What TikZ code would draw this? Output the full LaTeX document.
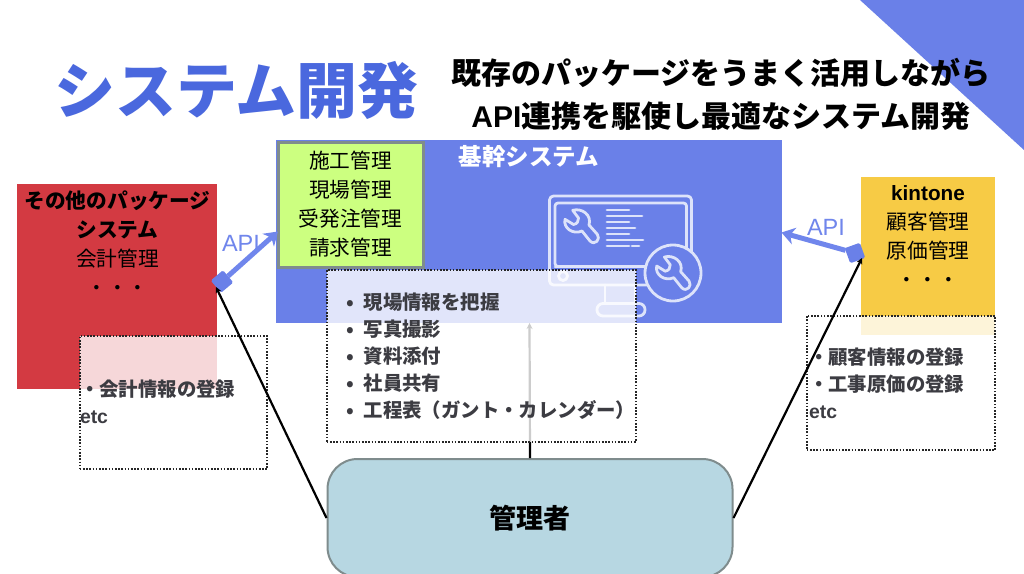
\documentclass[tikz,border=0pt]{standalone}
\usepackage{fontspec}
\setmainfont{Liberation Sans}
\newfontfamily\jp{Noto Sans CJK JP}
\usetikzlibrary{arrows.meta}
\definecolor{mainblue}{HTML}{6A80E8}
\definecolor{titleblue}{HTML}{4A68DE}
\definecolor{apiblue}{HTML}{7086EC}
\definecolor{redbox}{HTML}{D33A42}
\definecolor{yelbox}{HTML}{F7CB45}
\definecolor{limebox}{HTML}{CCFF80}
\definecolor{edgegray}{HTML}{7F8C8D}
\definecolor{admfill}{HTML}{B7D7E2}
\definecolor{icon}{HTML}{DDE3FA}
\definecolor{notetext}{HTML}{3C3C42}
\tikzset{
  x=1pt,y=-1pt,
  note/.style={draw=black!85,line width=1.8pt,dash pattern=on 1.6pt off 1.6pt,fill=white,fill opacity=.8,inner sep=0pt,outer sep=0pt},
  label/.style={inner sep=0pt,outer sep=0pt,align=center,font=\jp\fontsize{20.7}{29}\selectfont},
  notetxt/.style={inner sep=0pt,outer sep=0pt,align=left,anchor=north west,text=notetext,font=\jp\bfseries\fontsize{19.4}{27}\selectfont},
  apilink/.style={draw=apiblue,line width=5pt,-{Stealth[length=13pt,width=17pt,inset=4pt]}},
  plug/.style={fill=mainblue,rounded corners=1.5pt,minimum size=16pt,inner sep=0pt,outer sep=0pt},
  blackline/.style={draw=black,line width=2.2pt,-{Stealth[length=6pt,width=6pt]}},
  apitext/.style={inner sep=0pt,text=apiblue,font=\fontsize{23.5}{25}\selectfont},
  iconline/.style={draw=icon,line width=2.8pt,line cap=round,line join=round},
}
\newcommand{\wrenchshape}{%
  \draw[iconline] (32.7,25.3) .. controls (42,22.7) and (52,30) .. (49,40)
    -- (57.3,49.3) .. controls (61,54) and (55,61) .. (50,56) -- (42,46)
    .. controls (33,50) and (23,43) .. (25,34.3)
    -- (33.5,39.5) .. controls (37,39) and (39,36) .. (38.5,33) -- cycle;}
\begin{document}
\begin{tikzpicture}
\useasboundingbox (0,0) rectangle (1024,573);
\fill[white] (0,0) rectangle (1024,573);
\fill[mainblue] (860,0) -- (1024,0) -- (1024,150) -- cycle;

\node[label,anchor=center,text=titleblue,font=\jp\bfseries\fontsize{61}{61}\selectfont] (title) at (236.5,90) {システム開発};
\node[label,anchor=center,font=\jp\bfseries\fontsize{30}{43}\selectfont] (sub) at (721,94)
  {既存のパッケージをうまく活用しながら\\{\fontspec{Liberation Sans}\bfseries API}連携を駆使し最適なシステム開発};

% core system panel
\node[fill=mainblue,minimum width=506pt,minimum height=183pt,inner sep=0pt,outer sep=0pt] (core) at (529,231.5) {};
\node[label,text=white,font=\jp\bfseries\fontsize{23.5}{25}\selectfont] (coretitle) at (529,157) {基幹システム};

% monitor icon
\draw[iconline,rounded corners=4pt] (549.5,196) rectangle (691.5,285);
\draw[iconline,rounded corners=3pt] (555,203) rectangle (686.5,266.5);
\draw[iconline] (555,267) -- (686,267);
\draw[iconline] (563,276) circle (4.5);
\draw[iconline] (605,285) -- (605,303) (635,285) -- (635,303);
\draw[iconline,rounded corners=6pt] (597,303.5) rectangle (645,316);
\foreach \ya/\xb in {210/629,216/642,222/629,228/635,234/629,240/643,246/629}
  \draw[iconline] (607,\ya) -- (\xb,\ya);
\draw[iconline] (632,246) -- (639,246);
\begin{scope}[shift={(540,185)}]\wrenchshape\end{scope}
\draw[iconline,fill=mainblue] (673,273) circle (28);
\begin{scope}[shift={(631.7,231.7)}]\wrenchshape\end{scope}

% lime box
\node[fill=limebox,draw=edgegray,line width=3pt,minimum width=145pt,minimum height=125pt,inner sep=0pt] (lime) at (350.5,204.5) {};
\node[label] (limetext) at (350.5,204) {施工管理\\現場管理\\受発注管理\\請求管理};

% red box
\node[fill=redbox,minimum width=200pt,minimum height=205pt,inner sep=0pt,outer sep=0pt] (red) at (117,286) {};
\node[label] (redtext) at (117.5,243.5) {\bfseries その他のパッケージ\\\bfseries システム\\会計管理\\・・・};

% yellow box
\node[fill=yelbox,minimum width=134pt,minimum height=158pt,inner sep=0pt,outer sep=0pt] (yel) at (928,256) {};
\node[label] (yeltext) at (928,236.5) {{\fontspec{Liberation Sans}\bfseries kintone}\\顧客管理\\原価管理\\・・・};

% admin
\node[fill=admfill,draw=edgegray,line width=2pt,rounded corners=30pt,minimum width=405pt,minimum height=118pt,inner sep=0pt] (admin) at (530,518) {};
\node[label,font=\jp\bfseries\fontsize{27}{30}\selectfont] (admintext) at (530,518) {管理者};

% centre connector lies under the note
\draw[blackline] (admin.north) -- (529.5,323) coordinate (coreend);

% notes
\node[note,minimum width=187.5pt,minimum height=133pt] (noteL) at (173.5,402.5) {};
\node[note,minimum width=309pt,minimum height=172pt] (noteC) at (481.2,356) {};
\node[note,minimum width=188.5pt,minimum height=134.5pt] (noteR) at (901,383) {};

\node[notetxt] (noteLtext) at (80,380) {・会計情報の登録\\{\fontspec{Liberation Sans}\bfseries etc}};
\node[notetxt] (noteCtext) at (346,293) {•\hspace{10pt}現場情報を把握\\•\hspace{10pt}写真撮影\\•\hspace{10pt}資料添付\\•\hspace{10pt}社員共有\\•\hspace{10pt}工程表（ガント・カレンダー）};
\node[notetxt] (noteRtext) at (809,348) {・顧客情報の登録\\・工事原価の登録\\{\fontspec{Liberation Sans}\bfseries etc}};

% API links
\node[plug,rotate=40] (plugL) at (222,281.5) {};
\node[plug,rotate=20] (plugR) at (855,253) {};
\coordinate (apiL) at (278,231.5);
\coordinate (apiR) at (781.5,232.5);
\draw[apilink] (plugL) -- (apiL);
\draw[apilink] (plugR) -- (apiR);
\node[apitext] (apilabelL) at (241,243) {API};
\node[apitext] (apilabelR) at (826,227) {API};

% admin connectors
\coordinate (tipL) at (216,287);
\coordinate (tipR) at (862,258);
\draw[blackline] (admin.west) -- (tipL);
\draw[blackline] (admin.east) -- (tipR);
\end{tikzpicture}
\end{document}
